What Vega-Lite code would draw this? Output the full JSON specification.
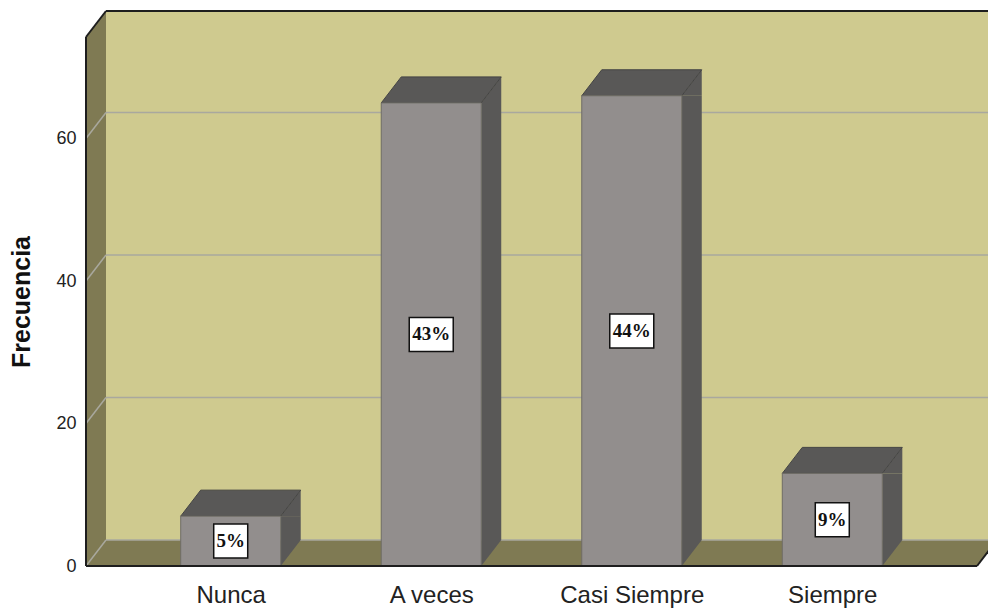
{
  "$schema": "https://vega.github.io/schema/vega-lite/v6.json",
  "width": 891,
  "height": 529,
  "autosize": {"type": "none"},
  "padding": {"left": 86, "top": 37, "right": 11, "bottom": 42},
  "background": "white",
  "config": {"view": {"stroke": null}},
  "data": {"values": [
    {"cat": "Nunca", "freq": 7, "pct": "5%"},
    {"cat": "A veces", "freq": 65, "pct": "43%"},
    {"cat": "Casi Siempre", "freq": 66, "pct": "44%"},
    {"cat": "Siempre", "freq": 13, "pct": "9%"}
  ]},
  "layer": [
    {
      "mark": {"type": "bar", "width": 100, "fill": "#928e8d", "opacity": 0},
      "encoding": {
        "x": {"field": "cat", "type": "nominal", "scale": {"type": "point", "padding": 0.7217, "domain": ["Nunca", "A veces", "Casi Siempre", "Siempre"]},
          "axis": {"title": null, "domain": false, "ticks": false, "labelAngle": 0, "labelFont": "Liberation Sans", "labelFontSize": 24, "labelColor": "#222", "labelPadding": 17}},
        "y": {"field": "freq", "type": "quantitative", "scale": {"domain": [0, 74.25], "nice": false, "zero": true},
          "axis": {"title": "Frecuencia", "values": [0, 20, 40, 60], "domain": false, "ticks": false, "grid": false,
            "labelFont": "Liberation Sans", "labelFontSize": 18, "labelColor": "#222", "labelPadding": 10,
            "titleFont": "Liberation Sans", "titleFontSize": 25, "titleFontWeight": "bold", "titleColor": "#111", "titlePadding": 21}}
      }
    },
    {
      "data": {"values": [{}]},
      "mark": {"type": "rect", "fill": "#cfca8f", "xOffset": 20, "x2Offset": 20, "yOffset": -26, "y2Offset": -26},
      "encoding": {"x": {"value": 0}, "x2": {"value": "width"}, "y": {"datum": 74.25, "type": "quantitative"}, "y2": {"datum": 0}}
    },
    {
      "data": {"values": [{}]},
      "mark": {"type": "rect", "fill": "#7f7a53", "x2Offset": 20},
      "encoding": {"x": {"value": 0}, "x2": {"value": 0}, "y": {"datum": 74.25, "type": "quantitative"}, "y2": {"datum": 0}}
    },
    {
      "data": {"values": [{}]},
      "mark": {"type": "point", "shape": "M0,0L20,-26L20,0Z", "size": 4, "filled": true, "fill": "#7f7a53", "strokeWidth": 0, "opacity": 1},
      "encoding": {"x": {"value": 0}, "y": {"datum": 74.25, "type": "quantitative"}}
    },
    {
      "data": {"values": [{}]},
      "mark": {"type": "rect", "fill": "#7f7a53", "yOffset": -26},
      "encoding": {"x": {"value": 0}, "x2": {"value": "width"}, "y": {"datum": 0, "type": "quantitative"}, "y2": {"datum": 0}}
    },
    {
      "data": {"values": [{}]},
      "mark": {"type": "point", "shape": "M0,0L0,-26L20,-26Z", "size": 4, "filled": true, "fill": "#7f7a53", "strokeWidth": 0, "opacity": 1},
      "encoding": {"x": {"value": "width"}, "y": {"datum": 0, "type": "quantitative"}}
    },
    {
      "data": {"values": [{"v": 0}, {"v": 20}, {"v": 40}, {"v": 60}]},
      "mark": {"type": "rule", "stroke": "#a9a89e", "strokeWidth": 1.5, "xOffset": 20, "x2Offset": 20, "yOffset": -26},
      "encoding": {"x": {"value": 0}, "x2": {"value": "width"}, "y": {"field": "v", "type": "quantitative"}}
    },
    {
      "data": {"values": [{"v": 0}, {"v": 20}, {"v": 40}, {"v": 60}]},
      "mark": {"type": "rule", "stroke": "#a9a89e", "strokeWidth": 1.5, "x2Offset": 20, "y2Offset": -26},
      "encoding": {"x": {"value": 0}, "x2": {"value": 0}, "y": {"field": "v", "type": "quantitative"}, "y2": {"field": "v"}}
    },
    {
      "data": {"values": [{}]},
      "mark": {"type": "rule", "stroke": "#1e1e1e", "strokeWidth": 2, "xOffset": 20, "x2Offset": 20, "yOffset": -26},
      "encoding": {"x": {"value": 0}, "x2": {"value": "width"}, "y": {"datum": 74.25, "type": "quantitative"}}
    },
    {
      "data": {"values": [{}]},
      "mark": {"type": "rule", "stroke": "#1e1e1e", "strokeWidth": 2},
      "encoding": {"x": {"value": 0}, "y": {"datum": 0, "type": "quantitative"}, "y2": {"datum": 74.25}}
    },
    {
      "data": {"values": [{}]},
      "mark": {"type": "rule", "stroke": "#1e1e1e", "strokeWidth": 2, "x2Offset": 20, "y2Offset": -26},
      "encoding": {"x": {"value": 0}, "x2": {"value": 0}, "y": {"datum": 74.25, "type": "quantitative"}, "y2": {"datum": 74.25}}
    },
    {
      "data": {"values": [{}]},
      "mark": {"type": "rule", "stroke": "#1e1e1e", "strokeWidth": 2, "x2Offset": 20, "y2Offset": -26},
      "encoding": {"x": {"value": "width"}, "x2": {"value": "width"}, "y": {"datum": 0, "type": "quantitative"}, "y2": {"datum": 0}}
    },
    {
      "mark": {"type": "bar", "width": 20, "xOffset": 60, "fill": "#595857", "y2Offset": -26},
      "encoding": {"x": {"field": "cat", "type": "nominal"}, "y": {"field": "freq", "type": "quantitative"}, "y2": {"datum": 0}}
    },
    {
      "mark": {"type": "point", "shape": "M50,-26L70,-26L50,0Z", "size": 4, "filled": true, "fill": "#595857", "strokeWidth": 0, "opacity": 1},
      "encoding": {"x": {"field": "cat", "type": "nominal"}, "y": {"datum": 0, "type": "quantitative"}}
    },
    {
      "mark": {"type": "point", "shape": "M50,0L70,-26L70,0Z", "size": 4, "filled": true, "fill": "#595857", "strokeWidth": 0, "opacity": 1},
      "encoding": {"x": {"field": "cat", "type": "nominal"}, "y": {"field": "freq", "type": "quantitative"}}
    },
    {
      "mark": {"type": "point", "shape": "M-50,0L50,0L70,-26L-30,-26Z", "size": 4, "filled": true, "fill": "#595857", "stroke": "#444444", "strokeWidth": 1, "opacity": 1},
      "encoding": {"x": {"field": "cat", "type": "nominal"}, "y": {"field": "freq", "type": "quantitative"}}
    },
    {
      "mark": {"type": "bar", "width": 100, "fill": "#928e8d", "stroke": "#6f6d66", "strokeWidth": 1},
      "encoding": {"x": {"field": "cat", "type": "nominal"}, "y": {"field": "freq", "type": "quantitative"}, "y2": {"datum": 0}}
    },
    {
      "data": {"values": [{}]},
      "mark": {"type": "rule", "stroke": "#1e1e1e", "strokeWidth": 2},
      "encoding": {"x": {"value": 0}, "x2": {"value": "width"}, "y": {"datum": 0, "type": "quantitative"}}
    },
    {
      "mark": {"type": "point", "size": 4, "filled": true, "fill": "white", "stroke": "#111111", "strokeWidth": 1.5, "opacity": 1,
        "yOffset": {"expr": "(scale('y', 0) - scale('y', datum.freq)) / 2"}},
      "encoding": {
        "x": {"field": "cat", "type": "nominal"},
        "y": {"field": "freq", "type": "quantitative"},
        "shape": {"condition": {"test": "length(datum.pct) > 2", "value": "M-22,-17L22,-17L22,17L-22,17Z"}, "value": "M-17,-17L17,-17L17,17L-17,17Z"}
      }
    },
    {
      "mark": {"type": "text", "font": "Liberation Serif", "fontSize": 19, "fontWeight": "bold", "color": "#111111", "baseline": "middle", "align": "center",
        "yOffset": {"expr": "(scale('y', 0) - scale('y', datum.freq)) / 2"}},
      "encoding": {
        "x": {"field": "cat", "type": "nominal"},
        "y": {"field": "freq", "type": "quantitative"},
        "text": {"field": "pct"}
      }
    }
  ]
}
